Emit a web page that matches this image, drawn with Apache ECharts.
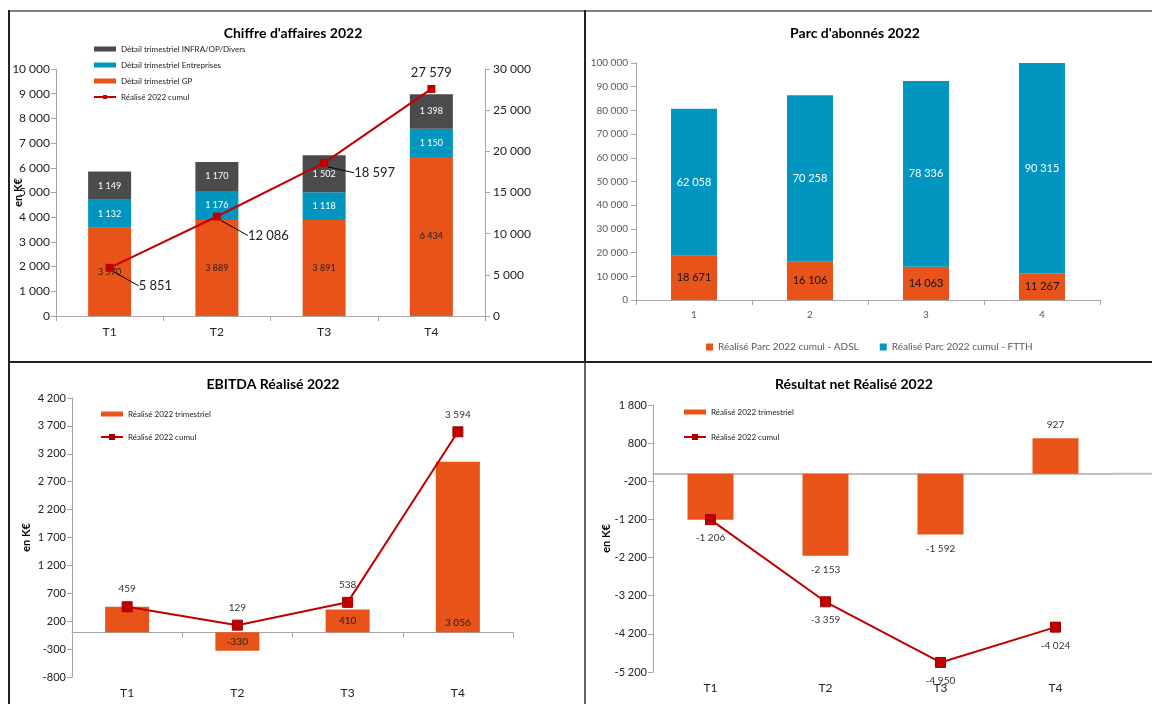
<!DOCTYPE html>
<html><head><meta charset="utf-8">
<script src="https://cdn.jsdelivr.net/npm/echarts@6/dist/echarts.min.js"></script>
<style>
html,body{margin:0;padding:0;background:#fff;width:1152px;height:704px;overflow:hidden;position:relative}
.c{position:absolute}
.ln{position:absolute;z-index:5}
</style></head><body>
<div id="c1" class="c" style="left:8px;top:11px;width:576px;height:350px"></div>
<div id="c2" class="c" style="left:585px;top:11px;width:567px;height:350px"></div>
<div id="c3" class="c" style="left:8px;top:362px;width:576px;height:342px"></div>
<div id="c4" class="c" style="left:585px;top:362px;width:567px;height:342px"></div>
<div class="ln" style="left:8px;top:10px;width:1144px;height:2px;background:#7f7f7f"></div>
<div class="ln" style="left:8px;top:10px;width:2px;height:694px;background:#222"></div>
<div class="ln" style="left:584px;top:10px;width:2px;height:352px;background:#222"></div>
<div class="ln" style="left:584px;top:362px;width:2px;height:342px;background:#666"></div>
<div class="ln" style="left:8px;top:361px;width:1144px;height:2px;background:#222"></div>
<script>
// ---- data ----
const cats = ['T1', 'T2', 'T3', 'T4'];
const caGP = [3570, 3889, 3891, 6434];
const caEnt = [1132, 1176, 1118, 1150];
const caInfra = [1149, 1170, 1502, 1398];
const caCumul = [5851, 12086, 18597, 27579];

const parcCats = ['1', '2', '3', '4'];
const parcADSL = [18671, 16106, 14063, 11267];
const parcFTTH = [62058, 70258, 78336, 90315];

const ebitdaQ = [459, -330, 410, 3056];
const ebitdaCumul = [459, 129, 538, 3594];

const rnQ = [-1206, -2153, -1592, 927];
const rnCumul = [-1206, -3359, -4950, -4024];

// ---- style ----
const FONT = 'Lato, "Open Sans", sans-serif';
const ORANGE = '#E8531A';
const BLUE = '#0096BF';
const DGREY = '#4B4B4D';
const RED = '#C00000';
const AXC = '#a6a6a6';

function fmt(v) {
  const s = Math.abs(Math.round(v)).toString().replace(/\B(?=(\d{3})+(?!\d))/g, ' ');
  return (v < 0 ? '-' : '') + s;
}
function title(text, x) {
  return { text, left: x, top: 10, textAlign: 'center',
    textStyle: { fontFamily: FONT, fontSize: 14, fontWeight: 'bold', color: '#000' } };
}
function grid(l, t, w, h) {
  return { left: l, top: t, width: w, height: h, containLabel: false, outerBoundsMode: 'none' };
}
function yAx(min, max, interval, extra) {
  return Object.assign({
    type: 'value', min, max, interval,
    axisLine: { show: true, lineStyle: { color: AXC } },
    axisTick: { show: true, length: 5, lineStyle: { color: AXC } },
    splitLine: { show: false },
    nameMoveOverlap: false,
    axisLabel: { formatter: fmt, fontFamily: FONT, fontSize: 11, color: '#222', margin: 6 }
  }, extra || {});
}
const nameStyle = { fontFamily: FONT, fontSize: 11, fontWeight: 'bold', color: '#000' };

// ---- Chart 1 ----
const ch1 = echarts.init(document.getElementById('c1'));
const L1 = ['Détail trimestriel INFRA/OP/Divers', 'Détail trimestriel Entreprises', 'Détail trimestriel GP', 'Réalisé 2022 cumul'];
const lblOff1 = [[20, 18], [22, 19], [21, 10], [0, 0]];
ch1.setOption({
  animation: false,
  title: title("Chiffre d'affaires 2022", 280),
  legend: {
    orient: 'vertical', left: 80, top: 29, itemWidth: 22, itemHeight: 5, itemGap: 8,
    data: [{ name: L1[0], icon: 'rect' }, { name: L1[1], icon: 'rect' }, { name: L1[2], icon: 'rect' }, { name: L1[3] }],
    textStyle: { fontFamily: FONT, fontSize: 8, color: '#222' }
  },
  grid: grid(48, 58, 429, 247),
  xAxis: {
    type: 'category', data: cats,
    axisLine: { lineStyle: { color: AXC } },
    axisTick: { show: true, length: 5, lineStyle: { color: AXC } },
    axisLabel: { fontFamily: FONT, fontSize: 12, color: '#222', margin: 10 }
  },
  yAxis: [
    yAx(0, 10000, 1000, { name: 'en K€', nameLocation: 'middle', nameGap: 32, nameRotate: 90,
      nameTextStyle: nameStyle,
      axisLabel: { formatter: fmt, fontFamily: FONT, fontSize: 12, color: '#222', margin: 6 } }),
    yAx(0, 30000, 5000, { position: 'right',
      axisLabel: { formatter: fmt, fontFamily: FONT, fontSize: 12, color: '#222', margin: 8 } })
  ],
  series: [
    { name: L1[2], type: 'bar', stack: 'ca', data: caGP, barWidth: 43, itemStyle: { color: ORANGE },
      label: { show: true, position: 'inside', formatter: p => fmt(p.value), fontFamily: FONT, fontSize: 9, color: '#222' } },
    { name: L1[1], type: 'bar', stack: 'ca', data: caEnt, itemStyle: { color: BLUE },
      label: { show: true, position: 'inside', formatter: p => fmt(p.value), fontFamily: FONT, fontSize: 9, color: '#fff' } },
    { name: L1[0], type: 'bar', stack: 'ca', data: caInfra, itemStyle: { color: DGREY },
      label: { show: true, position: 'inside', formatter: p => fmt(p.value), fontFamily: FONT, fontSize: 9, color: '#fff' } },
    { name: L1[3], type: 'line', yAxisIndex: 1, symbol: 'rect', symbolSize: 8,
      data: caCumul.map((v, i) => i === 3 ? { value: v, label: { position: 'top', distance: 6 }, labelLine: { show: false } } : v),
      itemStyle: { color: RED }, lineStyle: { color: RED, width: 2 },
      label: { show: true, position: 'right', formatter: p => fmt(p.value), fontFamily: FONT, fontSize: 13, color: '#222' },
      labelLine: { show: true, lineStyle: { color: '#000', width: 1 } },
      labelLayout: p => ({ dx: lblOff1[p.dataIndex][0], dy: lblOff1[p.dataIndex][1] }),
      z: 5 }
  ]
});

// ---- Chart 2 ----
const ch2 = echarts.init(document.getElementById('c2'));
const L2 = ['Réalisé Parc 2022 cumul - ADSL', 'Réalisé Parc 2022 cumul - FTTH'];
ch2.setOption({
  animation: false,
  title: title("Parc d'abonnés 2022", 265),
  legend: {
    left: 116, top: 326, itemWidth: 7, itemHeight: 7, itemGap: 21, icon: 'rect',
    data: L2, textStyle: { fontFamily: FONT, fontSize: 10, color: '#595959' }
  },
  grid: grid(51, 52, 464, 237),
  xAxis: {
    type: 'category', data: parcCats,
    axisLine: { lineStyle: { color: AXC } },
    axisTick: { show: true, length: 5, lineStyle: { color: AXC } },
    axisLabel: { fontFamily: FONT, fontSize: 10, color: '#595959', margin: 10 }
  },
  yAxis: yAx(0, 100000, 10000, { axisLabel: { formatter: fmt, fontFamily: FONT, fontSize: 10, color: '#595959', margin: 8 } }),
  series: [
    { name: L2[0], type: 'bar', stack: 'p', data: parcADSL, barWidth: 46, itemStyle: { color: ORANGE },
      label: { show: true, position: 'inside', formatter: p => fmt(p.value), fontFamily: FONT, fontSize: 11, color: '#111' } },
    { name: L2[1], type: 'bar', stack: 'p', data: parcFTTH, itemStyle: { color: BLUE },
      label: { show: true, position: 'inside', formatter: p => fmt(p.value), fontFamily: FONT, fontSize: 11, color: '#fff' } }
  ]
});

// ---- helper for charts 3/4 ----
function botAxis(show0) {
  return [
    { type: 'category', data: cats, axisLine: { onZero: true, lineStyle: { color: AXC } },
      axisTick: { show: show0, length: 5, lineStyle: { color: AXC } }, axisLabel: { show: false } },
    { type: 'category', data: cats, position: 'bottom', axisLine: { show: false, onZero: false },
      axisTick: { show: false }, axisLabel: { fontFamily: FONT, fontSize: 12, color: '#222', margin: 10 } }
  ];
}
const LQ = ['Réalisé 2022 trimestriel', 'Réalisé 2022 cumul'];

// ---- Chart 3 ----
const ch3 = echarts.init(document.getElementById('c3'));
ch3.setOption({
  animation: false,
  title: title('EBITDA Réalisé 2022', 260),
  legend: {
    orient: 'vertical', left: 87, top: 43, itemWidth: 22, itemHeight: 5, itemGap: 15,
    data: [{ name: LQ[0], icon: 'rect' }, { name: LQ[1] }],
    textStyle: { fontFamily: FONT, fontSize: 8, color: '#222' }
  },
  grid: grid(64, 36, 441, 279),
  xAxis: botAxis(true),
  yAxis: yAx(-800, 4200, 500, { name: 'en K€', nameLocation: 'middle', nameGap: 40, nameRotate: 90,
    nameTextStyle: nameStyle }),
  series: [
    { name: LQ[0], type: 'bar', barWidth: 44, itemStyle: { color: ORANGE },
      data: ebitdaQ.map((v, i) => ({ value: v, label: { show: i !== 0, position: i === 3 ? 'insideBottom' : 'inside' } })),
      label: { formatter: p => fmt(p.value), fontFamily: FONT, fontSize: 10, color: '#222' } },
    { name: LQ[1], type: 'line', symbol: 'rect', symbolSize: 10, data: ebitdaCumul,
      itemStyle: { color: RED, borderColor: '#a00000', borderWidth: 1 }, lineStyle: { color: RED, width: 2 },
      label: { show: true, position: 'top', distance: 7, formatter: p => fmt(p.value), fontFamily: FONT, fontSize: 10, color: '#333' },
      z: 5 }
  ]
});

// ---- Chart 4 ----
const ch4 = echarts.init(document.getElementById('c4'));
ch4.setOption({
  animation: false,
  title: title('Résultat net Réalisé 2022', 264),
  legend: {
    orient: 'vertical', left: 93, top: 41, itemWidth: 22, itemHeight: 5, itemGap: 17,
    data: [{ name: LQ[0], icon: 'rect' }, { name: LQ[1] }],
    textStyle: { fontFamily: FONT, fontSize: 8, color: '#222' }
  },
  grid: grid(68, 43, 460, 267),
  xAxis: (function () { const a = botAxis(false); a[0].axisLine.lineStyle = { color: '#bfbfbf', width: 2 }; return a; })(),
  yAxis: yAx(-5200, 1800, 1000, { name: 'en K€', nameLocation: 'middle', nameGap: 41, nameRotate: 90,
    nameTextStyle: nameStyle }),
  series: [
    { name: LQ[0], type: 'bar', barWidth: 46, itemStyle: { color: ORANGE },
      data: rnQ.map((v, i) => ({ value: v, label: { show: i !== 0, position: v >= 0 ? 'top' : 'bottom' } })),
      label: { formatter: p => fmt(p.value), fontFamily: FONT, fontSize: 10, color: '#333', distance: 9 } },
    { name: LQ[1], type: 'line', symbol: 'rect', symbolSize: 10, data: rnCumul,
      itemStyle: { color: RED, borderColor: '#a00000', borderWidth: 1 }, lineStyle: { color: RED, width: 2 },
      label: { show: true, position: 'bottom', distance: 8, formatter: p => fmt(p.value), fontFamily: FONT, fontSize: 10, color: '#333' },
      z: 5 }
  ]
});
const y0 = ch4.convertToPixel({ yAxisIndex: 0 }, 0);
ch4.setOption({ graphic: [{ type: 'line', z: 1, shape: { x1: 68 + 460, y1: y0, x2: 567, y2: y0 }, style: { stroke: '#bfbfbf', lineWidth: 2 } }] });
</script>
</body></html>
